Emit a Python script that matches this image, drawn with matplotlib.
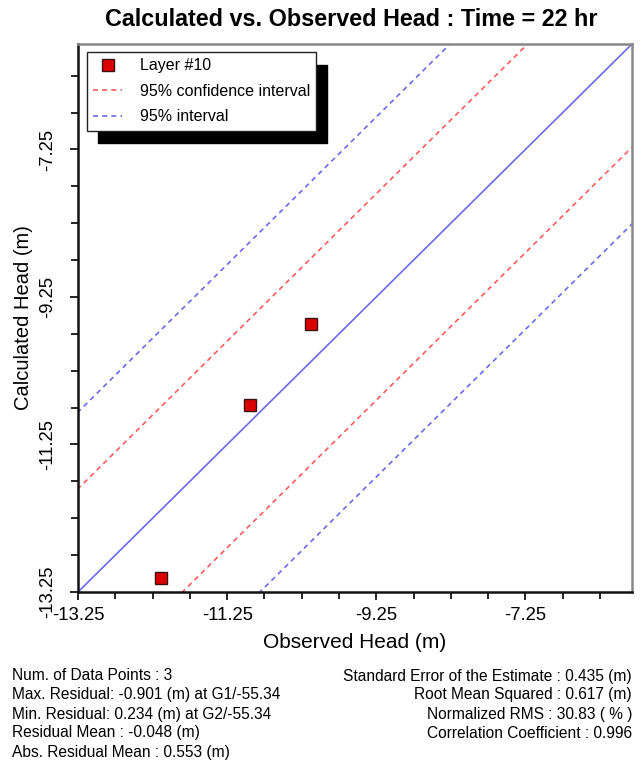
import numpy as np
import matplotlib
matplotlib.use('Agg')
import matplotlib.pyplot as plt
from matplotlib.ticker import MultipleLocator, FixedLocator

plt.rcParams['font.family'] = ['Liberation Sans', 'DejaVu Sans']

# data
observed = [-12.14, -10.94, -10.13]
calculated = [-13.06, -10.71, -9.62]
conf_offset = 1.40      # 95% confidence interval
pred_offset = 2.44      # 95% interval
axis_min, axis_max = -13.25, -5.82
tick_values = [-13.25, -11.25, -9.25, -7.25]

stats_left = ['Num. of Data Points : 3',
              'Max. Residual: -0.901 (m) at G1/-55.34',
              'Min. Residual: 0.234 (m) at G2/-55.34',
              'Residual Mean : -0.048 (m)',
              'Abs. Residual Mean : 0.553 (m)']
stats_right = ['Standard Error of the Estimate : 0.435 (m)',
               'Root Mean Squared : 0.617 (m)',
               'Normalized RMS : 30.83 ( % )',
               'Correlation Coefficient : 0.996']

fig = plt.figure(figsize=(6.41, 7.73), dpi=100)
ax = fig.add_axes([78 / 641, 1 - 592 / 773, 554 / 641, 548 / 773])

xs = np.array([axis_min - 5, axis_max + 5])
blue = '#6a6ae8'
red = '#ff5a5a'
dash = (3, 2.5)

ax.plot(xs, xs, color=blue, lw=1.2, zorder=2)
ax.plot(xs, xs + conf_offset, color=red, lw=1.2, dashes=dash,
        label='95% confidence interval', zorder=2)
ax.plot(xs, xs - conf_offset, color=red, lw=1.2, dashes=dash, zorder=2)
ax.plot(xs, xs + pred_offset, color=blue, lw=1.2, dashes=dash,
        label='95% interval', zorder=2)
ax.plot(xs, xs - pred_offset, color=blue, lw=1.2, dashes=dash, zorder=2)
ax.plot(observed, calculated, 's', ms=8.5, mfc='#dd0000', mec='#3a1010',
        mew=1.0, ls='none', label='Layer #10', zorder=3)

ax.set_xlim(axis_min, axis_max)
ax.set_ylim(axis_min, axis_max)
ax.xaxis.set_major_locator(FixedLocator(tick_values))
ax.yaxis.set_major_locator(FixedLocator(tick_values))
ax.xaxis.set_minor_locator(MultipleLocator(0.5, offset=0.25))
ax.yaxis.set_minor_locator(MultipleLocator(0.5, offset=0.25))
ax.set_xticklabels(['%.2f' % v for v in tick_values])
ax.set_yticklabels(['%.2f' % v for v in tick_values], rotation=90, va='center')
ax.tick_params(which='both', direction='out', labelsize=13.3, width=1.2)
ax.tick_params(which='major', length=6)
ax.tick_params(which='minor', length=5)
ax.tick_params(axis='x', which='major', pad=5)
ax.tick_params(axis='y', which='major', pad=10)

for side in ['left', 'bottom']:
    ax.spines[side].set_color('#111111')
    ax.spines[side].set_linewidth(1.8)
for side in ['top', 'right']:
    ax.spines[side].set_color('#888888')
    ax.spines[side].set_linewidth(1.8)

ax.set_xlabel('Observed Head (m)', fontsize=15, labelpad=6)
ax.set_ylabel('Calculated Head (m)', fontsize=14.5, labelpad=4)
fig.text(351 / 641, 1 - 19 / 773, 'Calculated vs. Observed Head : Time = 22 hr',
         ha='center', va='center', fontsize=16.8, fontweight='bold')

handles, labels = ax.get_legend_handles_labels()
order = [2, 0, 1]
leg = ax.legend([handles[i] for i in order], [labels[i] for i in order],
                loc='upper left', bbox_to_anchor=(87 / 641, 1 - 52 / 773),
                bbox_transform=fig.transFigure, borderaxespad=0,
                fontsize=11.5, fancybox=False, framealpha=1,
                edgecolor='#222222', handlelength=1.8, handletextpad=1.1,
                labelspacing=0.65, borderpad=0.4,
                shadow={'color': 'black', 'alpha': 1, 'ox': 8, 'oy': -9})
leg.get_frame().set_linewidth(1.0)

for i, s in enumerate(stats_left):
    fig.text(12 / 641, 1 - (676 + 19 * i) / 773, s, ha='left', va='center',
             fontsize=11.2)
for i, s in enumerate(stats_right):
    fig.text(632 / 641, 1 - (676 + 19 * i) / 773, s, ha='right', va='center',
             fontsize=11.2)

fig.savefig('out.png', dpi=100)
